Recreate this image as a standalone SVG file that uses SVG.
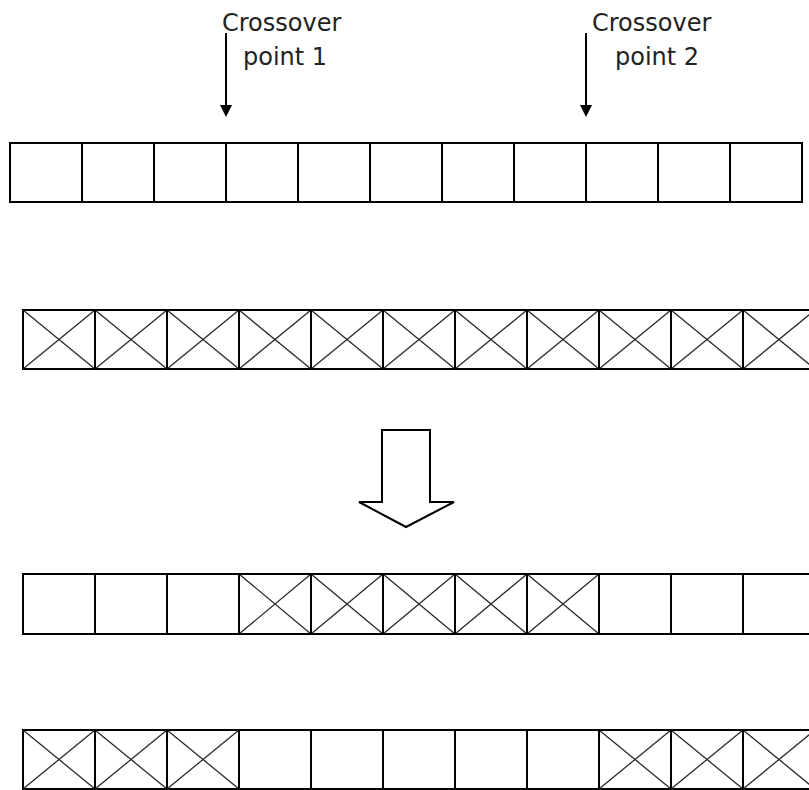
<svg xmlns="http://www.w3.org/2000/svg" width="809" height="790" viewBox="0 0 809 790">
  <style>
    .box { fill: #ffffff; stroke: #000000; stroke-width: 2; }
    .grid { fill: none; stroke: #000000; stroke-width: 2; }
    .cross { fill: none; stroke: #2a2a2a; stroke-width: 1.3; }
    .label { font-family: "DejaVu Sans", "Liberation Sans", sans-serif; font-size: 24px; fill: #222222; }
    .pointer { fill: none; stroke: #000000; stroke-width: 2; }
    .big-arrow { fill: #ffffff; stroke: #000000; stroke-width: 2; stroke-linejoin: miter; }
  </style>
  <defs>
    <!-- solid triangular head, base sits on the end of the line -->
    <marker id="tip" markerWidth="12" markerHeight="12" refX="0" refY="6" orient="auto" markerUnits="userSpaceOnUse" viewBox="0 0 12 12">
      <path d="M0,0 L12,6 L0,12 Z" fill="#000000"/>
    </marker>
  </defs>
  <rect width="809" height="790" fill="#ffffff"/>

  <!-- crossover point labels -->
  <g id="label-point-1">
    <text class="label" x="222" y="31">Crossover</text>
    <text class="label" x="243" y="65">point 1</text>
  </g>
  <g id="label-point-2">
    <text class="label" x="592" y="31">Crossover</text>
    <text class="label" x="615" y="65">point 2</text>
  </g>

  <!-- parent 1: plain genes -->
  <g id="parent-1">
    <rect class="box" x="10" y="143" width="792" height="59"/>
    <path class="grid" d="M82,143V202M154,143V202M226,143V202M298,143V202M370,143V202M442,143V202M514,143V202M586,143V202M658,143V202M730,143V202"/>
  </g>

  <!-- parent 2: crossed genes -->
  <g id="parent-2">
    <rect class="box" x="23" y="310" width="792" height="59"/>
    <path class="cross" d="M23,310L95,369M95,310L23,369M95,310L167,369M167,310L95,369M167,310L239,369M239,310L167,369M239,310L311,369M311,310L239,369M311,310L383,369M383,310L311,369M383,310L455,369M455,310L383,369M455,310L527,369M527,310L455,369M527,310L599,369M599,310L527,369M599,310L671,369M671,310L599,369M671,310L743,369M743,310L671,369M743,310L815,369M815,310L743,369"/>
    <path class="grid" d="M95,310V369M167,310V369M239,310V369M311,310V369M383,310V369M455,310V369M527,310V369M599,310V369M671,310V369M743,310V369"/>
  </g>

  <!-- offspring 1: middle segment from parent 2 -->
  <g id="offspring-1">
    <rect class="box" x="23" y="574" width="792" height="60"/>
    <path class="cross" d="M239,574L311,634M311,574L239,634M311,574L383,634M383,574L311,634M383,574L455,634M455,574L383,634M455,574L527,634M527,574L455,634M527,574L599,634M599,574L527,634"/>
    <path class="grid" d="M95,574V634M167,574V634M239,574V634M311,574V634M383,574V634M455,574V634M527,574V634M599,574V634M671,574V634M743,574V634"/>
  </g>

  <!-- offspring 2: outer segments from parent 2 -->
  <g id="offspring-2">
    <rect class="box" x="23" y="730" width="792" height="59"/>
    <path class="cross" d="M23,730L95,789M95,730L23,789M95,730L167,789M167,730L95,789M167,730L239,789M239,730L167,789M599,730L671,789M671,730L599,789M671,730L743,789M743,730L671,789M743,730L815,789M815,730L743,789"/>
    <path class="grid" d="M95,730V789M167,730V789M239,730V789M311,730V789M383,730V789M455,730V789M527,730V789M599,730V789M671,730V789M743,730V789"/>
  </g>

  <!-- connectors -->
  <g id="connectors">
    <line class="pointer" x1="226" y1="33" x2="226" y2="105" marker-end="url(#tip)"/>
    <line class="pointer" x1="586" y1="33" x2="586" y2="105" marker-end="url(#tip)"/>
    <path class="big-arrow" d="M382,430H430V502H454L406,527L359,502H382Z"/>
  </g>
</svg>
